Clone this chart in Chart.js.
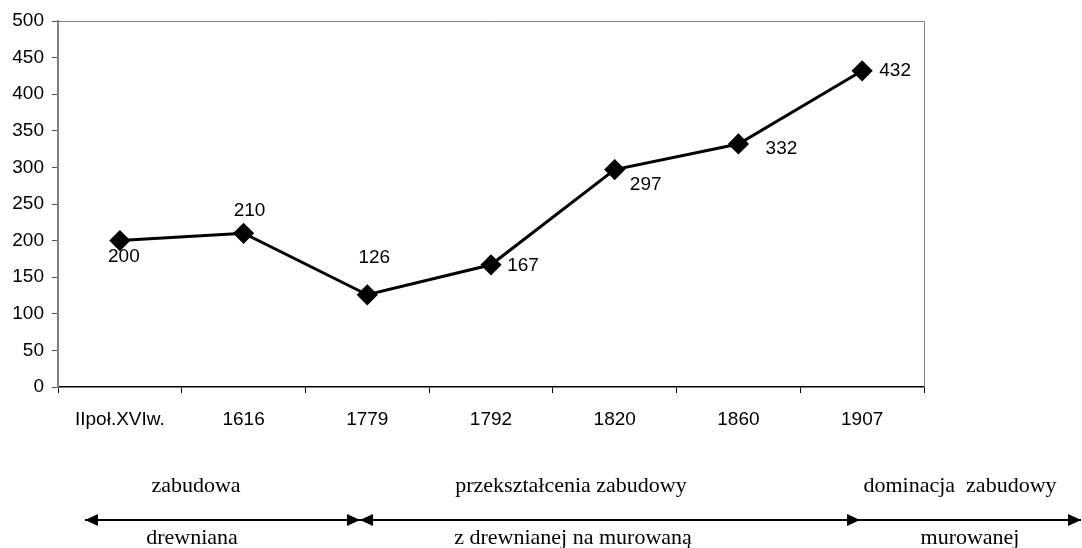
<!DOCTYPE html>
<html>
<head>
<meta charset="utf-8">
<script src="https://cdn.jsdelivr.net/npm/chart.js@4.4.1/dist/chart.umd.min.js"></script>
<style>
    html, body { margin: 0; padding: 0; background: #fff; }
    #wrap { width: 1082px; height: 548px; }
</style>
</head>
<body>
<div id="wrap"><canvas id="chart" width="1082" height="548"></canvas></div>
<script>
const categories = ['IIpoł.XVIw.', '1616', '1779', '1792', '1820', '1860', '1907'];
const values = [200, 210, 126, 167, 297, 332, 432];
const yMin = 0;
const yMax = 500;
const yStep = 50;

// periods shown under the axis: upper line, lower line
const periodTop = ['zabudowa', 'przekształcenia zabudowy', 'dominacja  zabudowy'];
const periodBottom = ['drewniana', 'z drewnianej na murowaną', 'murowanej'];

const sans = '"Liberation Sans", Arial, sans-serif';
const serif = '"Liberation Serif", "Times New Roman", serif';

// offsets of each value label from its point (px)
const labelOffsets = [[4, 16], [6, -23], [7, -37], [32, 1], [31, 15], [43, 5], [33, 0]];

const framePlugin = {
    id: 'frame',
    beforeDatasetsDraw(chart) {
        const { ctx, chartArea: a } = chart;
        ctx.save();
        ctx.strokeStyle = '#808080';
        ctx.lineWidth = 1;
        ctx.beginPath();
        ctx.moveTo(a.left, a.top + 0.5);
        ctx.lineTo(a.right + 0.5, a.top + 0.5);
        ctx.lineTo(a.right + 0.5, a.bottom);
        ctx.stroke();
        ctx.restore();
    }
};

const valueLabels = {
    id: 'valueLabels',
    afterDatasetsDraw(chart) {
        const { ctx } = chart;
        const meta = chart.getDatasetMeta(0);
        ctx.save();
        ctx.font = '19px ' + sans;
        ctx.fillStyle = '#000';
        ctx.textAlign = 'center';
        ctx.textBaseline = 'middle';
        meta.data.forEach((pt, i) => {
            const o = labelOffsets[i];
            ctx.fillText(String(values[i]), pt.x + o[0], pt.y + o[1]);
        });
        ctx.restore();
    }
};

function arrowHead(ctx, x, y, dir) {
    ctx.beginPath();
    ctx.moveTo(x, y);
    ctx.lineTo(x - dir * 13, y - 6);
    ctx.lineTo(x - dir * 13, y + 6);
    ctx.closePath();
    ctx.fill();
}

const periodsPlugin = {
    id: 'periods',
    afterDraw(chart) {
        const { ctx } = chart;
        const lineY = 520;
        const bounds = [85, 360, 860, 1081];
        const textX = [[196, 192], [571, 573], [960, 970]];
        ctx.save();
        ctx.fillStyle = '#000';
        ctx.strokeStyle = '#000';
        ctx.lineWidth = 2;
        ctx.beginPath();
        ctx.moveTo(bounds[0], lineY);
        ctx.lineTo(bounds[3], lineY);
        ctx.stroke();
        arrowHead(ctx, bounds[0], lineY, -1);
        arrowHead(ctx, bounds[1], lineY, 1);
        arrowHead(ctx, bounds[1], lineY, -1);
        arrowHead(ctx, bounds[2], lineY, 1);
        arrowHead(ctx, bounds[3], lineY, 1);

        ctx.font = '22px ' + serif;
        ctx.textAlign = 'center';
        ctx.textBaseline = 'alphabetic';
        periodTop.forEach((t, i) => ctx.fillText(t, textX[i][0], 492));
        periodBottom.forEach((t, i) => ctx.fillText(t, textX[i][1], 544));
        ctx.restore();
    }
};

new Chart(document.getElementById('chart'), {
    type: 'line',
    data: {
        labels: categories,
        datasets: [{
            data: values,
            borderColor: '#000',
            borderWidth: 3,
            pointStyle: 'rectRot',
            pointRadius: 8.5,
            pointBackgroundColor: '#000',
            pointBorderColor: '#000',
            tension: 0
        }]
    },
    options: {
        responsive: false,
        animation: false,
        devicePixelRatio: 1,
        layout: { padding: { top: 21, right: 158, left: 0, bottom: 0 } },
        plugins: { legend: { display: false }, tooltip: { enabled: false } },
        scales: {
            x: {
                offset: true,
                border: { color: '#000', width: 1.5 },
                grid: { drawOnChartArea: false, tickLength: 6, color: '#000', offset: true },
                ticks: { font: { size: 19, family: sans }, color: '#000', padding: 15, maxRotation: 0, autoSkip: false },
                afterFit: s => { s.height = 161; }
            },
            y: {
                min: yMin,
                max: yMax,
                border: { color: '#808080', width: 2 },
                grid: { drawOnChartArea: false, tickLength: 6, color: '#555' },
                ticks: { stepSize: yStep, font: { size: 19, family: sans }, color: '#000', padding: 8 },
                afterFit: s => { s.width = 58; }
            }
        }
    },
    plugins: [framePlugin, valueLabels, periodsPlugin]
});
</script>
</body>
</html>
